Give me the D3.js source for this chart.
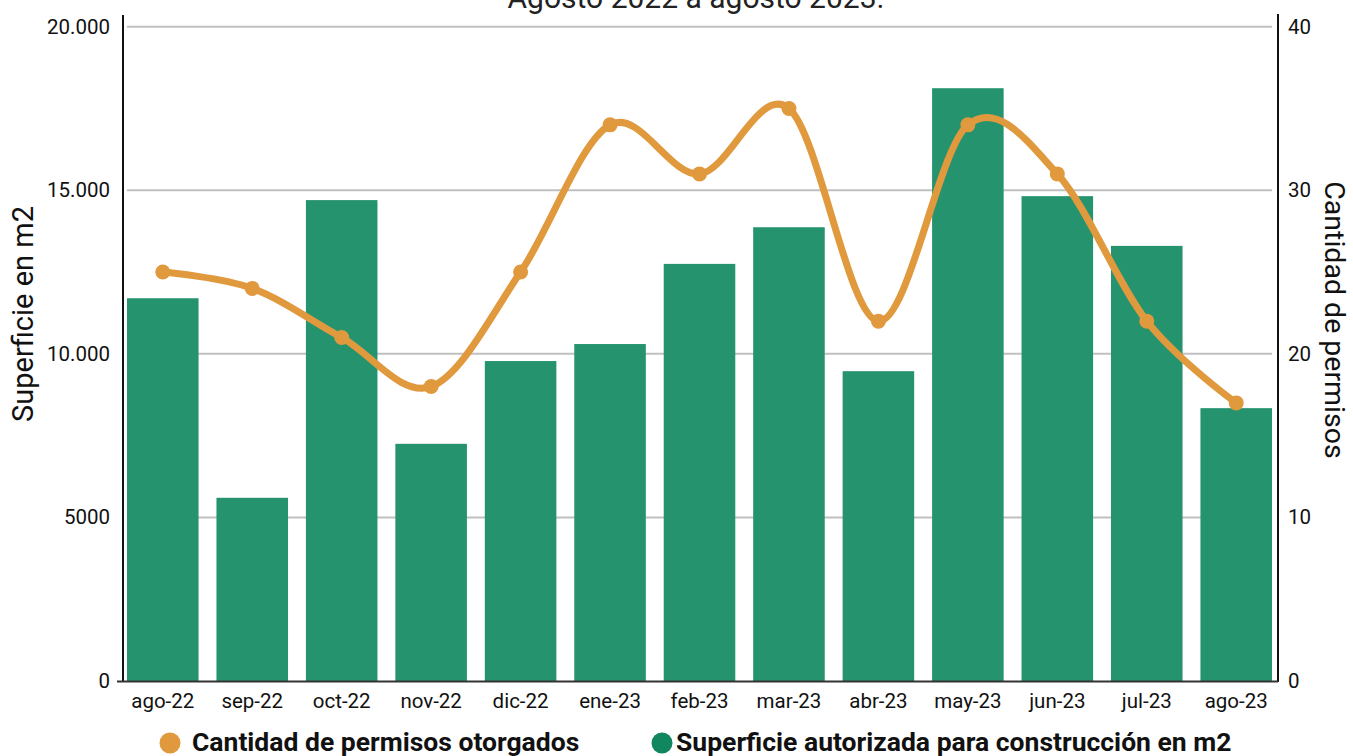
<!DOCTYPE html>
<html><head><meta charset="utf-8">
<script src="https://cdn.jsdelivr.net/npm/d3@7"></script>
<style>body{margin:0;background:#fff}svg{display:block;font-family:Roboto,"Noto Sans",sans-serif}</style>
</head><body><svg id="c" width="1353" height="756"></svg>
<script>
const categories = ["ago-22","sep-22","oct-22","nov-22","dic-22","ene-23","feb-23","mar-23","abr-23","may-23","jun-23","jul-23","ago-23"];
const superficie = [11700,5600,14700,7250,9780,10300,12750,13870,9470,18120,14820,13300,8340];
const permisos = [25,24,21,18,25,34,31,35,22,34,31,22,17];
const leftTicks = [0,5000,10000,15000,20000];
const leftTickLabels = ["0","5000","10.000","15.000","20.000"];
const rightTicks = [0,10,20,30,40];
const title = "Agosto 2022 a agosto 2023.";
const leftTitle = "Superficie en m2";
const rightTitle = "Cantidad de permisos";
const legendLabels = ["Cantidad de permisos otorgados","Superficie autorizada para construcción en m2"];

const barColor = "#26936f", lineColor = "#e0993d";
const svg = d3.select("#c");
const L = 123, R = 1278, T = 26.7, B = 681;

const x = d3.scaleBand().domain(categories).range([127,1272]).paddingInner(0.2).paddingOuter(0);
const yL = d3.scaleLinear().domain([0,20000]).range([B,T]);
const yR = d3.scaleLinear().domain([0,40]).range([B,T]);

// title (partly above the top edge, as in the reference)
svg.append("text").attr("x",696).attr("y",8).attr("text-anchor","middle")
  .attr("font-size",30).attr("fill","#222").text(title);

// gridlines
svg.append("g").selectAll("line").data(leftTicks.filter(d=>d>0)).join("line")
  .attr("x1",127).attr("x2",1272).attr("y1",d=>yL(d)).attr("y2",d=>yL(d))
  .attr("stroke","#c0c0c0").attr("stroke-width",2);

// bars
svg.append("g").selectAll("rect").data(categories).join("rect")
  .attr("x",d=>x(d)).attr("width",x.bandwidth())
  .attr("y",(d,i)=>yL(superficie[i])).attr("height",(d,i)=>B-yL(superficie[i]))
  .attr("fill",barColor);

// axes
const gl = svg.append("g").attr("transform",`translate(${L},0)`)
  .call(d3.axisLeft(yL).tickValues(leftTicks).tickFormat((d,i)=>leftTickLabels[i]).tickSize(0).tickPadding(13));
gl.select(".domain").remove();
gl.selectAll("text").attr("font-size",20.5).attr("fill","#111").attr("font-family","Roboto");
svg.append("line").attr("x1",L).attr("x2",L).attr("y1",15).attr("y2",B+1).attr("stroke","#111").attr("stroke-width",2);

const gr = svg.append("g").attr("transform",`translate(${R},0)`)
  .call(d3.axisRight(yR).tickValues(rightTicks).tickSize(0).tickPadding(10));
gr.select(".domain").remove();
gr.selectAll("text").attr("font-size",20.5).attr("fill","#111").attr("font-family","Roboto");
svg.append("line").attr("x1",R).attr("x2",R).attr("y1",14).attr("y2",B+1).attr("stroke","#111").attr("stroke-width",2);

const gx = svg.append("g").attr("transform",`translate(0,${B})`)
  .call(d3.axisBottom(x).tickSize(0).tickPadding(12));
gx.select(".domain").remove();
gx.selectAll("text").attr("font-size",20.5).attr("fill","#111").attr("font-family","Roboto");
svg.append("line").attr("x1",117).attr("x2",R).attr("y1",B+0.5).attr("y2",B+0.5).attr("stroke","#333").attr("stroke-width",2);

// line
const pts = categories.map((c,i)=>[x(c)+x.bandwidth()/2, yR(permisos[i])]);
svg.append("path").datum(pts)
  .attr("d",d3.line().curve(d3.curveCardinal.tension(0)))
  .attr("fill","none").attr("stroke",lineColor).attr("stroke-width",7).attr("stroke-linejoin","round");
svg.append("g").selectAll("circle").data(pts).join("circle")
  .attr("cx",d=>d[0]).attr("cy",d=>d[1]).attr("r",7.5).attr("fill",lineColor);

// axis titles
svg.append("text").attr("transform",`translate(33,314) rotate(-90)`).attr("text-anchor","middle")
  .attr("font-size",29).attr("fill","#111").text(leftTitle);
svg.append("text").attr("transform",`translate(1325,320) rotate(90)`).attr("text-anchor","middle")
  .attr("font-size",28.5).attr("fill","#111").text(rightTitle);

// legend
const lg = svg.append("g").attr("font-size",26.5).attr("font-weight","bold").attr("fill","#111");
lg.append("circle").attr("cx",170).attr("cy",743).attr("r",10.5).attr("fill",lineColor);
lg.append("text").attr("x",192).attr("y",751).text(legendLabels[0]);
lg.append("circle").attr("cx",662).attr("cy",743).attr("r",10.5).attr("fill","#11875f");
lg.append("text").attr("x",676).attr("y",751).text(legendLabels[1]);
</script></body></html>
